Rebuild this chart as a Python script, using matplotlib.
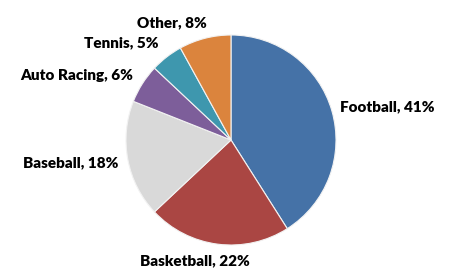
import matplotlib
matplotlib.use('Agg')
import matplotlib.pyplot as plt

sports = ['Football', 'Basketball', 'Baseball', 'Auto Racing', 'Tennis', 'Other']
shares = [41, 22, 18, 6, 5, 8]
colors = ['#4572A7', '#AA4643', '#D9D9D9', '#7D5E9A', '#3E97AE', '#DB843D']

# label anchors in pixels (x, y from top) and alignment
label_pos = [(340, 107, 'left'), (195, 261, 'center'), (118, 163, 'right'),
             (133, 75, 'right'), (158, 43, 'right'), (172, 23, 'center')]

W, H = 449, 275
fig = plt.figure(figsize=(W / 100, H / 100), dpi=100)
cx, cy, r = 231, 140, 105
ax = fig.add_axes([(cx - r) / W, (H - cy - r) / H, 2 * r / W, 2 * r / H])
ax.pie(shares, colors=colors, startangle=90, counterclock=False,
       wedgeprops=dict(edgecolor='#f2f2f2', linewidth=0.8))
ax.set_xlim(-1, 1)
ax.set_ylim(-1, 1)
ax.axis('off')

for name, v, (x, y, ha) in zip(sports, shares, label_pos):
    fig.text(x / W, 1 - y / H, '%s, %d%%' % (name, v), ha=ha, va='center',
             fontsize=11, fontweight='heavy', family='Lato', color='black')

fig.savefig('out.png', dpi=100, facecolor='white')
